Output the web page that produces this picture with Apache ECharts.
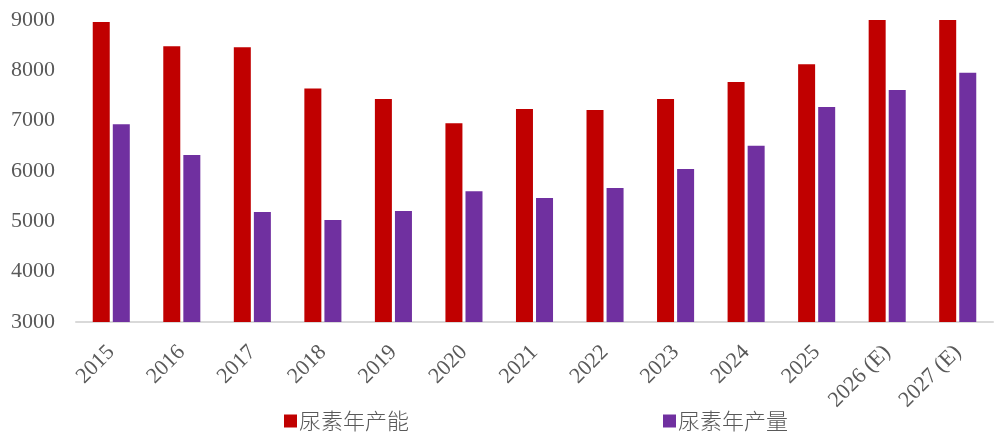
<!DOCTYPE html>
<html>
<head>
<meta charset="utf-8">
<script src="https://cdn.jsdelivr.net/npm/echarts@6/dist/echarts.min.js"></script>
<style>html,body{margin:0;padding:0;background:#fff}#c{width:1000px;height:444px}</style>
</head>
<body>
<div id="c"></div>
<script>
var categories = ['2015','2016','2017','2018','2019','2020','2021','2022','2023','2024','2025','2026 (E)','2027 (E)'];
var capacity = [8960, 8480, 8460, 7640, 7430, 6950, 7230, 7210, 7430, 7770, 8120, 9000, 9030];
var output = [6930, 6320, 5185, 5025, 5205, 5600, 5465, 5660, 6040, 6500, 7270, 7610, 7950];
var seriesNames = ['尿素年产能', '尿素年产量'];
var yTicks = [3000, 9000, 1000];

var serif = '"Liberation Serif", "DejaVu Serif", "Noto Sans CJK SC", serif';
var chart = echarts.init(document.getElementById('c'), null, {renderer: 'canvas'});
chart.setOption({
  animation: false,
  backgroundColor: '#fff',
  grid: {left: 76, right: 7, top: 20, bottom: 122, containLabel: false},
  legend: {
    data: seriesNames,
    left: 284, top: 410, padding: 0,
    itemWidth: 13, itemHeight: 13, itemGap: 254,
    icon: 'rect',
    textStyle: {fontFamily: '"Noto Sans CJK SC", sans-serif', fontSize: 22, fontWeight: 300, color: '#595959', padding: [0,0,0,-3]}
  },
  xAxis: {
    type: 'category',
    data: categories,
    axisLine: {lineStyle: {color: '#d9d9d9', width: 2}},
    axisTick: {show: false},
    axisLabel: {rotate: 45, margin: 27, fontFamily: serif, fontSize: 22, color: '#595959', interval: 0}
  },
  yAxis: {
    type: 'value',
    min: yTicks[0], max: yTicks[1], interval: yTicks[2],
    axisLine: {show: false},
    axisTick: {show: false},
    splitLine: {show: false},
    axisLabel: {margin: 21, fontFamily: serif, fontSize: 22, color: '#595959', formatter: function (v) { return String(v); }}
  },
  series: [
    {name: seriesNames[0], type: 'bar', data: capacity, barWidth: 17, barGap: '18%',
     itemStyle: {color: '#c00000'}},
    {name: seriesNames[1], type: 'bar', data: output, barWidth: 17, barGap: '18%',
     itemStyle: {color: '#7030a0'}}
  ]
});
</script>
</body>
</html>
